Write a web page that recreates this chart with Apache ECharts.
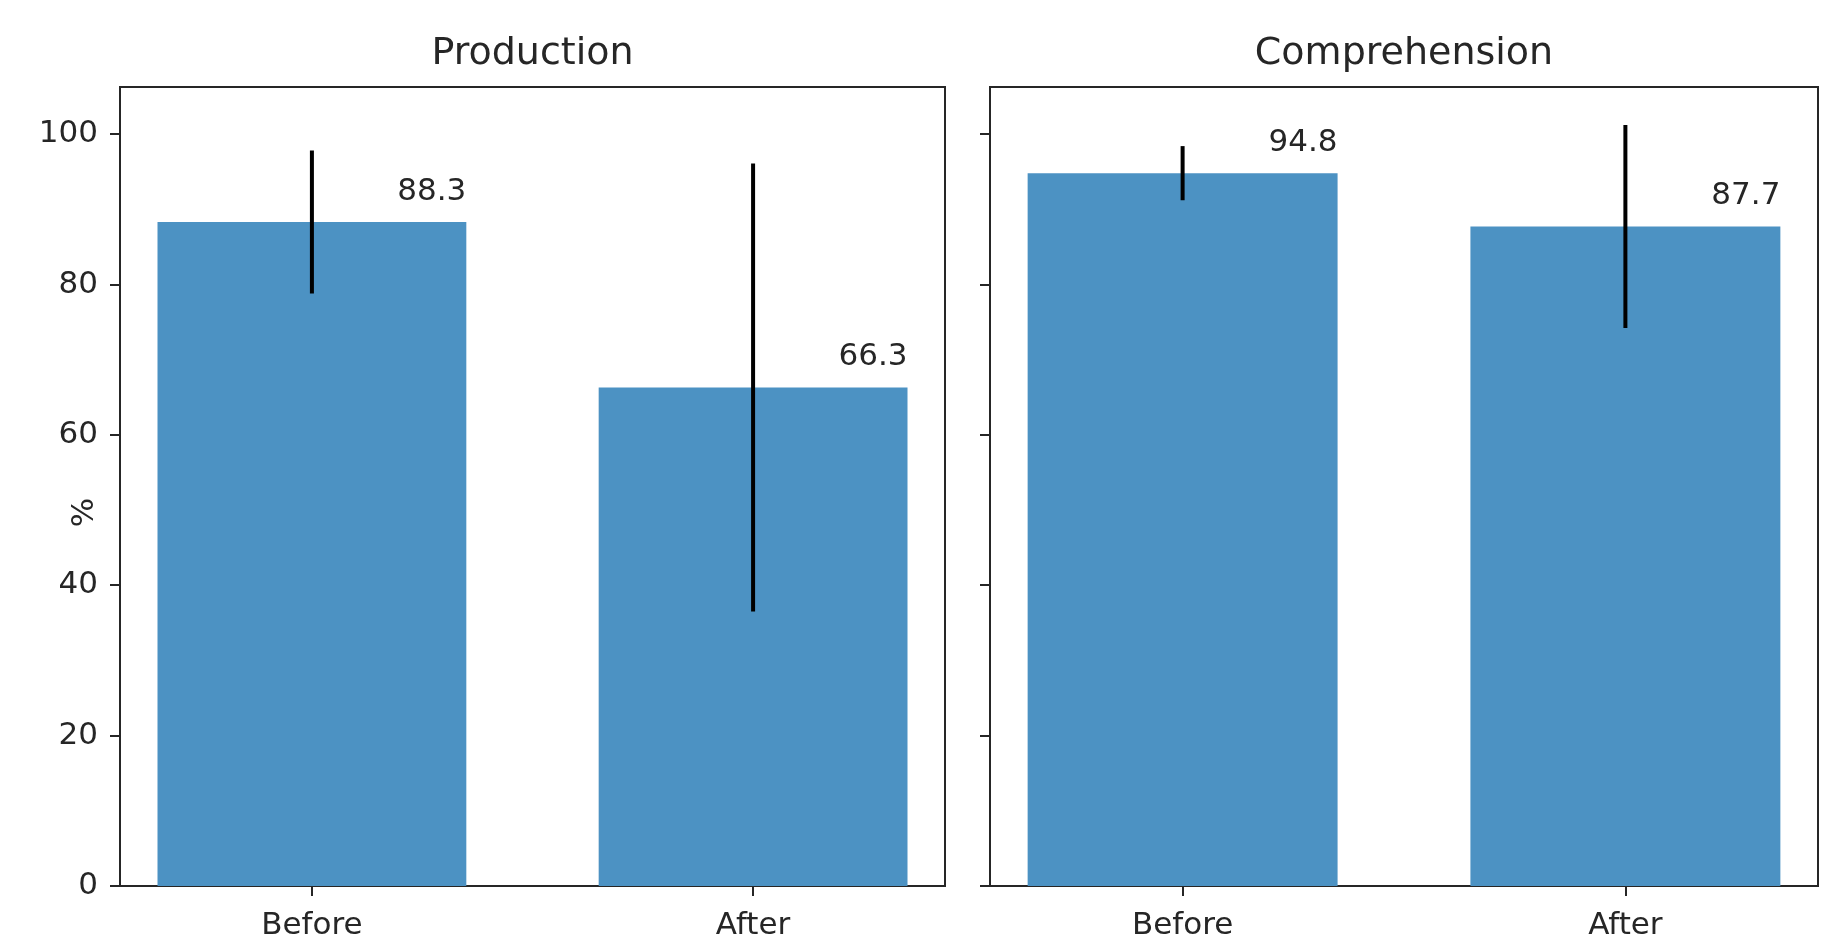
<!DOCTYPE html>
<html>
<head>
<meta charset="utf-8">
<script src="https://cdn.jsdelivr.net/npm/echarts@6/dist/echarts.min.js"></script>
<style>html,body{margin:0;padding:0;background:#fff}#c{width:1838px;height:941px}</style>
</head>
<body>
<div id="c"></div>
<script>
const categories = ['Before', 'After'];
const panelTitles = ['Production', 'Comprehension'];
const productionMeans = [88.3, 66.3];
const productionErrs = [9.5, 29.8];
const comprehensionMeans = [94.8, 87.7];
const comprehensionErrs = [3.6, 13.5];
const yTicks = [0, 20, 40, 60, 80, 100];
const xTicks = [0, 1];

const FONT = 'DejaVu Sans';
const TXT = '#262626';
const LINE = '#262626';
const BAR = '#4c92c3';
const X_MIN = -0.435, X_MAX = 1.435;
const Y_MAX = 106.26;
const grids = [
  {left: 120, right: 893, top: 87, bottom: 53},
  {left: 990, right: 20, top: 87, bottom: 53}
];
const W = 1838;
function barW(g) { return (W - g.left - g.right) / (X_MAX - X_MIN) * 0.7; }

const chart = echarts.init(document.getElementById('c'), null, {renderer: 'canvas'});
const panels = [
  {means: productionMeans, errs: productionErrs},
  {means: comprehensionMeans, errs: comprehensionErrs}
];

const option = {
  backgroundColor: '#fff',
  animation: false,
  title: panelTitles.map((t, i) => ({
    text: t,
    left: (grids[i].left + (W - grids[i].right)) / 2,
    textAlign: 'center',
    top: 35,
    padding: 0,
    textStyle: {fontFamily: FONT, fontSize: 38, fontWeight: 'normal', color: TXT}
  })),
  grid: grids.map(g => Object.assign({show: true, borderColor: LINE, borderWidth: 2, backgroundColor: 'transparent'}, g)),
  xAxis: grids.map((g, i) => ({
    type: 'value', gridIndex: i, min: X_MIN, max: X_MAX,
    splitLine: {show: false},
    axisLine: {show: true, onZero: false, lineStyle: {color: LINE, width: 2}},
    axisTick: {show: true, length: 10, lineStyle: {color: LINE, width: 2}, customValues: xTicks},
    axisLabel: {show: true, customValues: xTicks, margin: 24, fontFamily: FONT, fontSize: 31, color: TXT,
      formatter: v => categories[Math.round(v)] || ''}
  })),
  yAxis: grids.map((g, i) => ({
    type: 'value', gridIndex: i, min: 0, max: Y_MAX,
    name: i === 0 ? '%' : '', nameLocation: 'middle', nameGap: 20, nameMoveOverlap: false,
    nameTextStyle: {fontFamily: FONT, fontSize: 31, color: TXT, padding: [0, 52, 0, 0]},
    splitLine: {show: false},
    axisLine: {show: true, onZero: false, lineStyle: {color: LINE, width: 2}},
    axisTick: {show: true, length: 10, lineStyle: {color: LINE, width: 2}, customValues: yTicks},
    axisLabel: {show: i === 0, customValues: yTicks, margin: 22, fontFamily: FONT, fontSize: 31, color: TXT}
  })),
  series: []
};

panels.forEach((p, i) => {
  option.series.push({
    type: 'bar', xAxisIndex: i, yAxisIndex: i,
    barWidth: barW(grids[i]),
    itemStyle: {color: BAR},
    data: p.means.map((m, k) => [xTicks[k], m]),
    label: {
      show: true, position: ['100%', 0], align: 'right', verticalAlign: 'bottom',
      offset: [0, -15], fontFamily: FONT, fontSize: 31, color: TXT,
      formatter: d => d.value[1].toFixed(1)
    },
    z: 2
  });
  option.series.push({
    type: 'custom', xAxisIndex: i, yAxisIndex: i,
    data: p.means.map((m, k) => [xTicks[k], m - p.errs[k], m + p.errs[k]]),
    renderItem: (params, api) => {
      const a = api.coord([api.value(0), api.value(1)]);
      const b = api.coord([api.value(0), api.value(2)]);
      return {type: 'line', shape: {x1: a[0], y1: a[1], x2: b[0], y2: b[1]},
        style: {stroke: '#000', lineWidth: 4}};
    },
    z: 5
  });
});

chart.setOption(option);
</script>
</body>
</html>
